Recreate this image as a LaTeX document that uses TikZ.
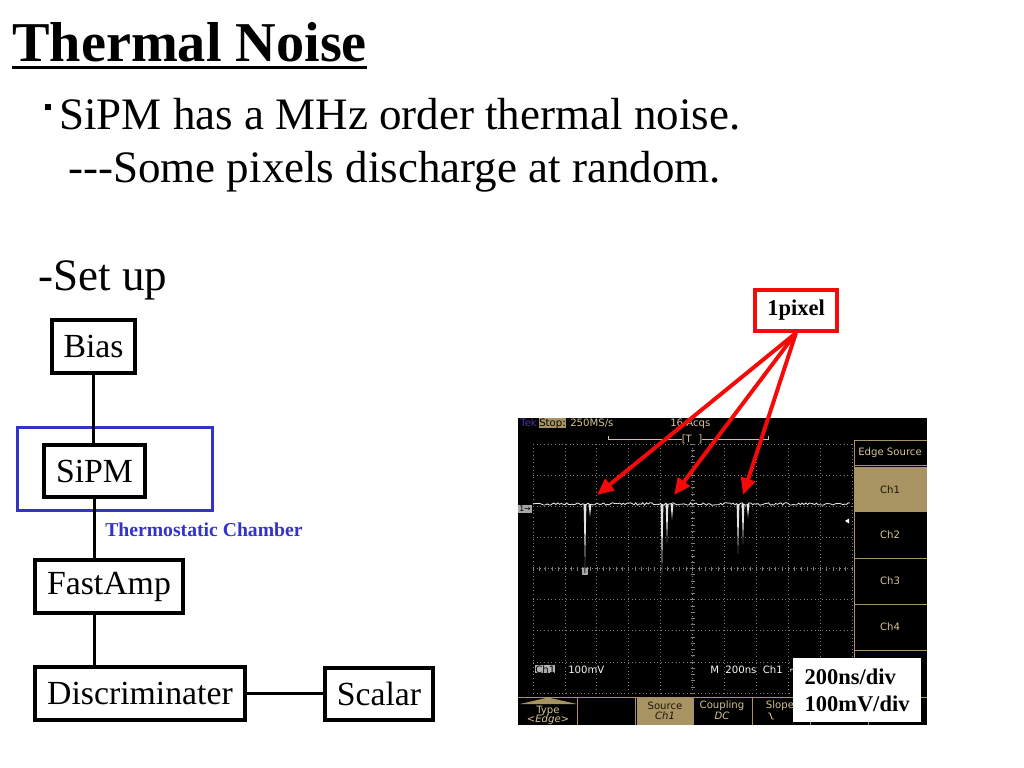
\documentclass[tikz,border=0pt]{standalone}
\usepackage{fontspec}
\setmainfont{Liberation Serif}
\setsansfont{DejaVu Sans}
\usetikzlibrary{shapes, arrows.meta, positioning, calc}
\definecolor{chamberblue}{RGB}{51, 51, 204}
\definecolor{pixelred}{RGB}{245, 10, 10}
\definecolor{scopegold}{RGB}{168, 148, 98}
\definecolor{scopetan}{RGB}{214, 196, 150}
\definecolor{gridgray}{RGB}{125, 125, 125}
\definecolor{tracegray}{RGB}{228, 228, 228}
\definecolor{tekviolet}{RGB}{80, 50, 170}
\tikzset{
  >=Stealth,
  wire/.style={line width=2.8pt, black},
  pixelarrow/.style={-{Triangle[length=4.2mm, width=3.6mm]}, line width=2.8pt, pixelred},
  gridline/.style={gridgray, line width=0.5pt, dash pattern=on 0.6pt off 2pt},
  tracestyle/.style={tracegray, line width=0.6pt},
  menuline/.style={scopegold, line width=0.5pt}
}

\begin{document}
\begin{tikzpicture}[x=0.025cm, y=-0.025cm,
    titletext/.style={font=\fontsize{40}{46}\selectfont\bfseries, inner sep=0pt, anchor=base west},
    bodytext/.style={font=\fontsize{32}{38}\selectfont, inner sep=0pt, anchor=base west},
    blockbox/.style={rectangle, draw=black, line width=2.8pt, inner sep=0pt, font=\fontsize{24}{28}\selectfont, minimum height=1.325cm},
    labelbox/.style={rectangle, fill=white, inner sep=0pt, font=\fontsize{16}{19}\selectfont\bfseries, align=left},
    scopetxt/.style={font=\sffamily\fontsize{7.2}{8}\selectfont, text=scopetan, inner sep=0pt}
]
    \path[use as bounding box, fill=white] (0,0) rectangle (1024,768);

    % Title and text lines (pixel grid, y pointing down)
    \node[titletext] (title) at (12,62) {Thermal Noise};
    \draw[line width=2.2pt] ([yshift=-3.6pt]title.base west) -- ([yshift=-3.6pt]title.base east);
    \node[bodytext] (line1) at (45,130) {\rule[14pt]{4.3pt}{4.3pt}\hspace{5.7pt}SiPM has a MHz order thermal noise.};
    \node[bodytext] (line2) at (68,183) {-{}-{}-Some pixels discharge at random.};
    \node[bodytext] (setup) at (38,290) {-Set up};

    % Setup chain: chamber first, boxes on top
    \node[rectangle, draw=chamberblue, line width=2.2pt, minimum width=4.875cm, minimum height=2.075cm] (chamber) at (115,469) {};
    \node[blockbox, minimum width=2.075cm] (bias) at (93.5,346.5) {Bias};
    \node[blockbox, minimum width=2.525cm, minimum height=1.3cm] (sipm) at (94.5,471) {SiPM};
    \node[blockbox, minimum width=3.7cm] (fastamp) at (109,586.5) {FastAmp};
    \node[blockbox, minimum width=5.25cm] (disc) at (140,693.5) {Discriminater};
    \node[blockbox, minimum width=2.7cm, minimum height=1.3cm] (scalar) at (379,694) {Scalar};
    \node[font=\fontsize{14}{16}\selectfont\bfseries, text=chamberblue, anchor=base west, inner sep=0pt] (chamberlabel) at (105,536) {Thermostatic Chamber};

    \draw[wire] (bias.south) -- (bias.south |- sipm.north);
    \draw[wire] (sipm.south) -- (sipm.south |- fastamp.north);
    \draw[wire] (fastamp.south -| sipm.south) -- (sipm.south |- disc.north);
    \draw[wire] (disc.east) -- (disc.east -| scalar.west);

    % Oscilloscope screen
    \fill[black] (518,418) rectangle (927,725);
    \foreach \i in {0,...,10} \draw[gridline] ({533+31.9*\i},444) -- ({533+31.9*\i},693);
    \foreach \j in {0,...,8} \draw[gridline] (533,{444+31.125*\j}) -- (852,{444+31.125*\j});
    \foreach \k in {0,...,50} \draw[gridgray, line width=0.4pt] ({533+6.38*\k},566.5) -- ({533+6.38*\k},570.5);
    \foreach \k in {0,...,40} \draw[gridgray, line width=0.4pt] (690.5,{444+6.225*\k}) -- (694.5,{444+6.225*\k});

    % trace with pulses
    \pgfmathsetseed{11}
    \draw[tracestyle] plot[domain=533:850, samples=180] (\x, {504+1.3*rand});
    \foreach \sx/\sy in {585/568, 590/517, 662/575, 667/543, 672/520, 738/554, 743/544, 748/518}
      \fill[tracegray] ({\sx-1.4},504) -- (\sx,\sy) -- ({\sx+1.4},504) -- cycle;
    \node[fill=gray!70, text=black, font=\sffamily\fontsize{5.5}{6}\selectfont, inner sep=0.8pt] (trigmark) at (585,571) {T};
    \node[fill=gray!70, text=black, font=\sffamily\fontsize{5.5}{6}\selectfont, inner sep=0.8pt] (chmark) at (525,509) {1→};
    \fill[white] (845,521) -- (849,518.5) -- (849,523.5) -- cycle;

    % header
    \node[scopetxt, text=tekviolet, anchor=base west] (tek) at (520,426) {Tek};
    \node[scopetxt, fill=scopegold, text=black, anchor=base west] (stop) at (539,426) {Stop:};
    \node[scopetxt, anchor=base west] (rate) at (570,426) {250MS/s};
    \node[scopetxt, anchor=base west] (acqs) at (670,426) {16 Acqs};
    \draw[scopetan, line width=0.4pt] (608,436) -- (608,439) -- (768,439) -- (768,436);
    \node[scopetxt, fill=black, anchor=base] (trigpos) at (692,442) {[T\ \ ]};

    % right menu
    \fill[scopegold] (854,467) rectangle (927,512);
    \draw[menuline] (854,440) -- (927,440);
    \draw[menuline] (854,440) -- (854,697);
    \foreach \yy in {465, 558, 604, 650} \draw[menuline] (854,\yy) -- (927,\yy);
    \node[scopetxt] (edgesrc) at (890,452.5) {Edge Source};
    \node[scopetxt, text=black!85!brown] (mch1) at (890,489.5) {Ch1};
    \node[scopetxt] (mch2) at (890,535) {Ch2};
    \node[scopetxt] (mch3) at (890,581) {Ch3};
    \node[scopetxt] (mch4) at (890,627) {Ch4};

    % bottom status and menu
    \node[scopetxt, fill=gray!60, text=black, anchor=base west] (chtag) at (535,673) {Ch1};
    \node[scopetxt, text=white!85!scopetan, anchor=base west] (vdiv) at (568,673) {100mV};
    \node[scopetxt, text=white!85!scopetan, anchor=base west] (tdiv) at (710,673) {M\ \ 200ns\ \ Ch1\ \ ⌐};
    \fill[scopegold] (637,697) rectangle (693,725);
    \fill[scopegold] (520,704) -- (548,697.5) -- (577,704) -- cycle;
    \draw[menuline] (518,697) -- (927,697);
    \foreach \xx in {577, 635, 693, 752, 810, 868} \draw[menuline] (\xx,697) -- (\xx,725);
    \node[scopetxt] (mtype) at (548,711) {Type};
    \node[scopetxt] (medge) at (548,720) {<\textit{Edge}>};
    \node[scopetxt, text=black!85!brown] (msrc) at (665,706) {Source};
    \node[scopetxt, text=black!85!brown] (msrcch) at (665,716) {\textit{Ch1}};
    \node[scopetxt] (mcoup) at (722,706) {Coupling};
    \node[scopetxt] (mdc) at (722,716) {\textit{DC}};
    \node[scopetxt] (mslope) at (780,706) {Slope};
    \draw[scopetan, line width=0.6pt] (768,713) -- (770,713) -- (772,719) -- (774,719);

    % scale label and pixel callout
    \node[labelbox, minimum width=3.2cm, minimum height=1.6cm] (divlabel) at (857,690) {200ns/div\\100mV/div};
    \node[rectangle, draw=pixelred, line width=2.8pt, fill=white, minimum width=2.05cm, minimum height=1.025cm, font=\fontsize{16}{19}\selectfont\bfseries, inner sep=0pt] (pixel) at (796,310.5) {1pixel};
    \coordinate (hit1) at (597,495);
    \coordinate (hit2) at (674,495);
    \coordinate (hit3) at (743,495);
    \draw[pixelarrow] (pixel.south) -- (hit1);
    \draw[pixelarrow] (pixel.south) -- (hit2);
    \draw[pixelarrow] (pixel.south) -- (hit3);
\end{tikzpicture}
\end{document}
